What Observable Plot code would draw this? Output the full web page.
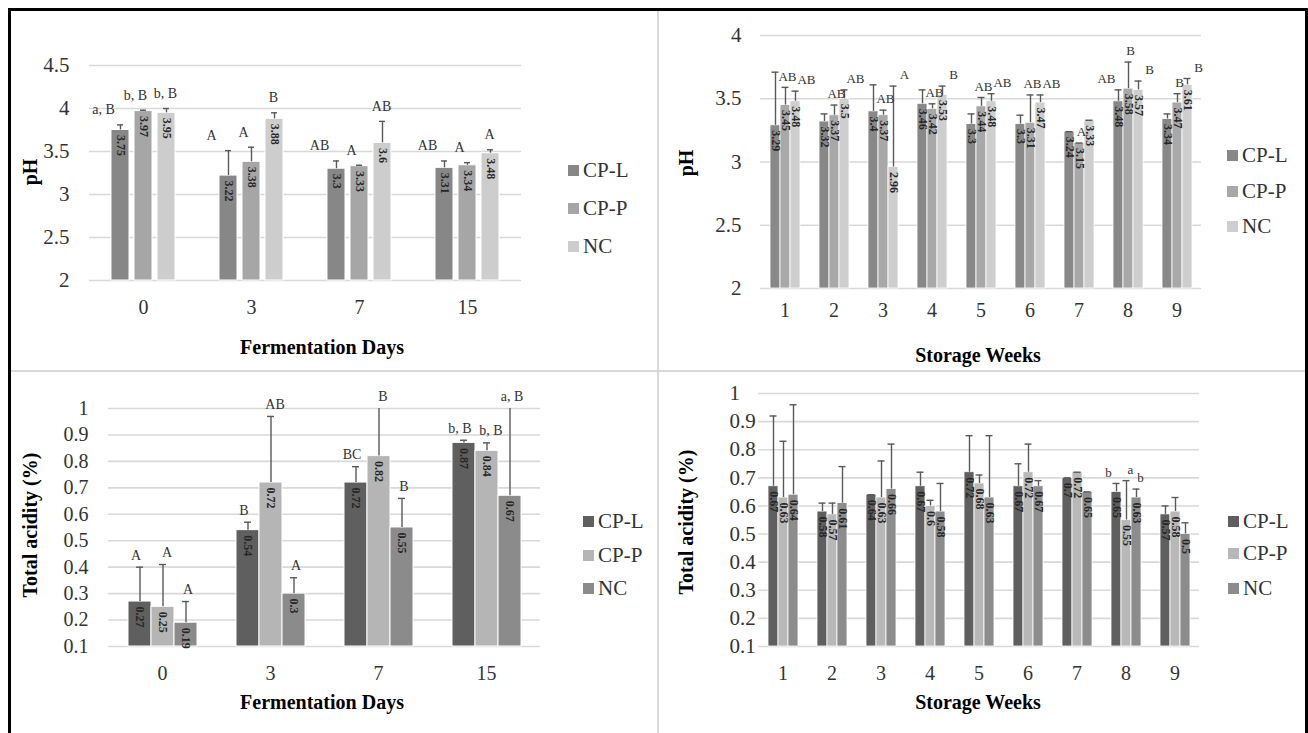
<!DOCTYPE html>
<html>
<head>
<meta charset="utf-8">
<script src="https://cdn.jsdelivr.net/npm/d3@7"></script>
<script src="https://cdn.jsdelivr.net/npm/@observablehq/plot@0.6"></script>
<style>
  body { margin: 0; background: #fff; font-family: "Liberation Serif", "Times New Roman", serif; }
  #root { position: relative; width: 1308px; height: 733px; overflow: hidden; background: #fff; }
  .frame { position: absolute; left: 8px; top: 8px; width: 1294px; height: 740px; border: 3px solid #000; }
  .vdiv { position: absolute; left: 657px; top: 11px; width: 2px; height: 730px; background: #d9d9d9; }
  .hdiv { position: absolute; left: 11px; top: 370px; width: 1294px; height: 2px; background: #d9d9d9; }
  .panel { position: absolute; }
  .title { position: absolute; font-family: "Liberation Serif", serif; font-weight: bold; font-size: 20px; color: #000; white-space: nowrap; transform: translate(-50%, -50%); }
  .ytitle { position: absolute; font-family: "Liberation Serif", serif; font-weight: bold; font-size: 20px; color: #000; white-space: nowrap; transform: translate(-50%, -50%) rotate(-90deg); }
  .leg { position: absolute; display: flex; align-items: center; font-family: "Liberation Serif", serif; font-size: 21px; color: #333; height: 24px; white-space: nowrap; }
  .leg span.sw { display: inline-block; width: 11px; height: 11px; margin-right: 4px; }
</style>
</head>
<body>
<div id="root">
  <div class="frame"></div>
  <div class="vdiv"></div>
  <div class="hdiv"></div>
</div>
<script>
// ---------- data ----------
const seriesNames = ["CP-L", "CP-P", "NC"];
const fermDays = ["0", "3", "7", "15"];
const storageWeeks = ["1", "2", "3", "4", "5", "6", "7", "8", "9"];

// pH during fermentation
const phFermCPL = [3.75, 3.22, 3.3, 3.31];
const phFermCPP = [3.97, 3.38, 3.33, 3.34];
const phFermNC  = [3.95, 3.88, 3.6, 3.48];
const phFermErrCPL = [0.06, 0.29, 0.09, 0.08];
const phFermErrCPP = [0.01, 0.17, 0.01, 0.03];
const phFermErrNC  = [0.05, 0.07, 0.25, 0.04];
const phFermSigCPL = ["a, B", "A", "AB", "AB"];
const phFermSigCPP = ["b, B", "A", "A", "A"];
const phFermSigNC  = ["b, B", "B", "AB", "A"];

// pH during storage
const phStorCPL = [3.29, 3.32, 3.4, 3.46, 3.3, 3.3, 3.24, 3.48, 3.34];
const phStorCPP = [3.45, 3.37, 3.37, 3.42, 3.44, 3.31, 3.15, 3.58, 3.47];
const phStorNC  = [3.48, 3.5, 2.96, 3.53, 3.48, 3.47, 3.33, 3.57, 3.61];
const phStorErrCPL = [0.42, 0.06, 0.21, 0.11, 0.08, 0.07, 0, 0.09, 0.04];
const phStorErrCPP = [0.14, 0.08, 0.04, 0.04, 0.07, 0.22, 0, 0.21, 0.07];
const phStorErrNC  = [0.08, 0.07, 0.64, 0.07, 0.06, 0.06, 0, 0.07, 0.05];
const phStorSigCPL = ["", "", "", "", "", "", "", "AB", ""];
const phStorSigCPP = ["AB", "AB", "AB", "AB", "AB", "AB", "A", "B", "B"];
const phStorSigNC  = ["AB", "AB", "A", "B", "AB", "AB", "", "B", "B"];

// Total acidity during fermentation
const taFermCPL = [0.27, 0.54, 0.72, 0.87];
const taFermCPP = [0.25, 0.72, 0.82, 0.84];
const taFermNC  = [0.19, 0.3, 0.55, 0.67];
const taFermErrCPL = [0.13, 0.03, 0.06, 0.01];
const taFermErrCPP = [0.16, 0.25, 0.2, 0.03];
const taFermErrNC  = [0.08, 0.06, 0.11, 0.35];
const taFermSigCPL = ["A", "B", "BC", "b, B"];
const taFermSigCPP = ["A", "AB", "B", "b, B"];
const taFermSigNC  = ["A", "A", "B", "a, B"];

// Total acidity during storage
const taStorCPL = [0.67, 0.58, 0.64, 0.67, 0.72, 0.67, 0.7, 0.65, 0.57];
const taStorCPP = [0.63, 0.57, 0.63, 0.6, 0.68, 0.72, 0.72, 0.55, 0.58];
const taStorNC  = [0.64, 0.61, 0.66, 0.58, 0.63, 0.67, 0.65, 0.63, 0.5];
const taStorErrCPL = [0.25, 0.03, 0, 0.05, 0.13, 0.08, 0, 0.03, 0.03];
const taStorErrCPP = [0.2, 0.04, 0.13, 0.02, 0.03, 0.1, 0, 0.14, 0.05];
const taStorErrNC  = [0.32, 0.13, 0.16, 0.1, 0.22, 0.02, 0, 0.03, 0.04];
const taStorSigCPL = ["", "", "", "", "", "", "", "b", ""];
const taStorSigCPP = ["", "", "", "", "", "", "", "a", ""];
const taStorSigNC  = ["", "", "", "", "", "", "", "b", ""];

const phTicksFerm = [2, 2.5, 3, 3.5, 4, 4.5];
const phTicksStor = [2, 2.5, 3, 3.5, 4];
const taTicks = [0.1, 0.2, 0.3, 0.4, 0.5, 0.6, 0.7, 0.8, 0.9, 1];

// ---------- helpers ----------
function buildRows(cats, vals, errs, sigs) {
  const rows = [];
  cats.forEach((c, i) => seriesNames.forEach((s, j) => {
    rows.push({cat: c, series: s, value: vals[j][i], err: errs[j][i],
               top: vals[j][i] + errs[j][i], sig: sigs[j][i]});
  }));
  return rows;
}

const root = document.getElementById("root");
const FONT = "'Liberation Serif', 'Times New Roman', serif";

function panel(cfg) {
  const rows = buildRows(cfg.cats, cfg.vals, cfg.errs, cfg.sigs);
  const yMin = cfg.ticks[0], yMax = cfg.ticks[cfg.ticks.length - 1];
  const sigMarks = seriesNames.map((s, j) =>
    Plot.text(rows.filter(d => d.sig && d.series === s), {
      fx: "cat", x: "series", y: d => Math.min(d.top, yMax), text: "sig",
      dy: cfg.sigDy, dx: cfg.sigDx[j], fontSize: cfg.sigSize, fill: "#333", fontFamily: FONT
    }));
  const chart = Plot.plot({
    width: cfg.width, height: cfg.height,
    marginLeft: cfg.ml, marginRight: cfg.mr, marginTop: cfg.mt, marginBottom: cfg.mb,
    style: {fontFamily: FONT, color: "#333", background: "transparent", overflow: "visible"},
    fx: {domain: cfg.cats, padding: 0, label: null},
    x: {domain: seriesNames, paddingInner: cfg.pi, paddingOuter: cfg.po, axis: null},
    y: {domain: [yMin, yMax], label: null},
    color: {domain: seriesNames, range: cfg.colors},
    marks: [
      Plot.gridY(cfg.ticks, {stroke: "#d9d9d9", strokeOpacity: 1, strokeWidth: 1.6}),
      Plot.barY(rows, {fx: "cat", x: "series", y1: yMin, y2: "value", fill: "series", stroke: "#fff", strokeWidth: cfg.barStroke}),
      Plot.ruleX(rows, {fx: "cat", x: "series", y1: "value", y2: d => Math.min(d.top, yMax), stroke: "#595959", strokeWidth: 1.4}),
      Plot.tickY(rows.filter(d => d.top <= yMax), {fx: "cat", x: "series", y: "top", stroke: "#595959", strokeWidth: 1.4, insetLeft: cfg.capInset, insetRight: cfg.capInset}),
      Plot.text(rows, {fx: "cat", x: "series", y: "value", text: d => String(d.value), rotate: 90, textAnchor: "start", dy: 5, fontSize: 12, fontWeight: "bold", fill: "#262626", fontFamily: FONT}),
      ...sigMarks,
      Plot.axisY(cfg.ticks, {anchor: "left", tickSize: 0, tickPadding: cfg.yPad, fontSize: cfg.yFont, textAnchor: cfg.yAnchor || "end", tickFormat: d => String(d), fontFamily: FONT}),
      Plot.axisFx({anchor: "bottom", tickSize: 0, tickPadding: cfg.fxPad, fontSize: 20, label: null, fontFamily: FONT})
    ]
  });
  chart.classList.add("panel");
  chart.style.left = cfg.left + "px";
  chart.style.top = cfg.top + "px";
  root.appendChild(chart);

  // axis titles
  const xt = document.createElement("div");
  xt.className = "title"; xt.textContent = cfg.xTitle;
  xt.style.left = cfg.xTitlePos[0] + "px"; xt.style.top = cfg.xTitlePos[1] + "px";
  root.appendChild(xt);
  const yt = document.createElement("div");
  yt.className = "ytitle"; yt.textContent = cfg.yTitle;
  yt.style.left = cfg.yTitlePos[0] + "px"; yt.style.top = cfg.yTitlePos[1] + "px";
  root.appendChild(yt);

  // legend
  seriesNames.forEach((s, i) => {
    const row = document.createElement("div");
    row.className = "leg";
    row.style.left = cfg.legX + "px";
    row.style.top = (cfg.legY[i] - 12) + "px";
    const sw = document.createElement("span");
    sw.className = "sw"; sw.style.background = cfg.colors[i];
    row.appendChild(sw);
    row.appendChild(document.createTextNode(s));
    root.appendChild(row);
  });
}

panel({
  left: 0, top: 0, width: 658, height: 371, ml: 88, mr: 137, mt: 65, mb: 91,
  cats: fermDays, vals: [phFermCPL, phFermCPP, phFermNC], errs: [phFermErrCPL, phFermErrCPP, phFermErrNC],
  sigs: [phFermSigCPL, phFermSigCPP, phFermSigNC], ticks: phTicksFerm,
  colors: ["#878787", "#a6a6a6", "#cdcdcd"], pi: 0.21, po: 0.86, barStroke: 1, capInset: 6,
  sigDy: -15, sigDx: [-17, -8, -1], sigSize: 14, yPad: 20, yFont: 21, fxPad: 19,
  xTitle: "Fermentation Days", xTitlePos: [322, 347], yTitle: "pH", yTitlePos: [30, 172],
  legX: 568, legY: [170, 208, 246]
});

panel({
  left: 658, top: 0, width: 650, height: 371, ml: 99, mr: 104, mt: 35, mb: 83,
  cats: storageWeeks, vals: [phStorCPL, phStorCPP, phStorNC], errs: [phStorErrCPL, phStorErrCPP, phStorErrNC],
  sigs: [phStorSigCPL, phStorSigCPP, phStorSigNC], ticks: phTicksStor,
  colors: ["#888888", "#a8a8a8", "#cecece"], pi: 0, po: 0.88, barStroke: 0.8, capInset: 1.5,
  sigDy: -11, sigDx: [-12, 2, 11], sigSize: 13, yPad: 19, yFont: 21, fxPad: 14,
  xTitle: "Storage Weeks", xTitlePos: [978, 355], yTitle: "pH", yTitlePos: [686, 163],
  legX: 1227, legY: [155, 191, 226]
});

panel({
  left: 0, top: 371, width: 658, height: 362, ml: 107, mr: 118, mt: 37, mb: 87,
  cats: fermDays, vals: [taFermCPL, taFermCPP, taFermNC], errs: [taFermErrCPL, taFermErrCPP, taFermErrNC],
  sigs: [taFermSigCPL, taFermSigCPP, taFermSigNC], ticks: taTicks,
  colors: ["#5f5f5f", "#b5b5b5", "#8b8b8b"], pi: 0, po: 0.755, barStroke: 1, capInset: 8,
  sigDy: -12, sigDx: [-4, 4, 2], sigSize: 14, yPad: 20, yFont: 20, fxPad: 19,
  xTitle: "Fermentation Days", xTitlePos: [322, 702], yTitle: "Total acidity (%)", yTitlePos: [30, 525],
  legX: 583, legY: [521, 555, 588]
});

panel({
  left: 658, top: 371, width: 650, height: 362, ml: 99, mr: 109, mt: 22, mb: 87,
  cats: storageWeeks, vals: [taStorCPL, taStorCPP, taStorNC], errs: [taStorErrCPL, taStorErrCPP, taStorErrNC],
  sigs: [taStorSigCPL, taStorSigCPP, taStorSigNC], ticks: taTicks,
  colors: ["#5f5f5f", "#b8b8b8", "#8c8c8c"], pi: 0, po: 0.88, barStroke: 0.8, capInset: 1.5,
  sigDy: -11, sigDx: [-8, 4, 4], sigSize: 13, yPad: 29, yFont: 21, yAnchor: "start", fxPad: 19,
  xTitle: "Storage Weeks", xTitlePos: [978, 702], yTitle: "Total acidity (%)", yTitlePos: [686, 522],
  legX: 1228, legY: [521, 553, 588]
});
</script>
</body>
</html>
